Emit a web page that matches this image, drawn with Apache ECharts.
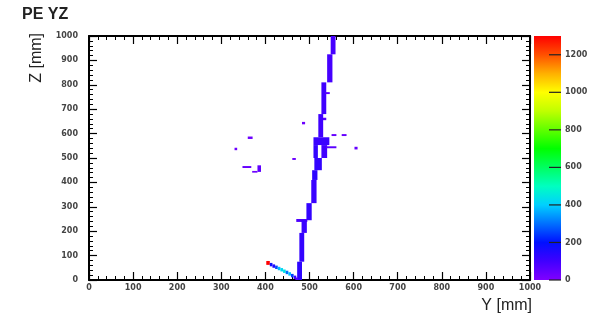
<!DOCTYPE html>
<html>
<head>
<meta charset="utf-8">
<script src="https://cdn.jsdelivr.net/npm/echarts@6/dist/echarts.min.js"></script>
<style>
html,body{margin:0;padding:0;background:#fff;}
#chart{width:600px;height:321px;}
</style>
</head>
<body>
<div id="chart"></div>
<script>
// Histogram bins merged into rectangles: [Ymin, Ymax, Zmin, Zmax, entries] (mm)
const trackSegments = [
  [548, 559, 925, 1000, 90],
  [540, 552, 810, 925, 90],
  [527, 538, 680, 810, 100],
  [536, 546, 762, 770, 60],
  [528, 538, 655, 665, 60],
  [520, 531, 585, 680, 100],
  [509, 545, 553, 585, 110],
  [509, 519, 500, 553, 120],
  [527, 540, 500, 553, 100],
  [538, 561, 540, 548, 60],
  [511, 528, 450, 500, 120],
  [506, 518, 410, 450, 130],
  [504, 516, 315, 410, 110],
  [493, 505, 245, 315, 120],
  [470, 495, 238, 250, 80],
  [482, 494, 193, 245, 110],
  [477, 488, 75, 193, 120],
  [472, 483, 0, 75, 130]
];
const diagonalHits = [
  [402, 410, 62, 78, 1300],
  [410, 416, 56, 70, 180],
  [416, 422, 50, 64, 150],
  [422, 428, 45, 59, 260],
  [428, 434, 40, 54, 380],
  [434, 440, 35, 49, 420],
  [440, 446, 29, 43, 440],
  [446, 452, 24, 38, 300],
  [452, 458, 18, 32, 380],
  [458, 464, 11, 25, 250],
  [464, 470, 4, 18, 120],
  [468, 474, 0, 10, 80]
];
const isolatedHits = [
  [360, 371, 578, 588, 30],
  [330, 336, 532, 542, 30],
  [348, 368, 459, 467, 40],
  [382, 390, 443, 470, 50],
  [370, 382, 440, 447, 30],
  [461, 469, 492, 500, 30],
  [483, 490, 638, 648, 30],
  [550, 561, 590, 598, 40],
  [573, 584, 590, 598, 40],
  [602, 609, 535, 546, 40]
];
const paletteTickStep = 200;
const paletteTicks = [0, 200, 400, 600, 800, 1000, 1200];
const paletteColors = ['#8000ff', '#4000ff', '#0010ff', '#0070ff', '#00d0ff', '#00ffc0', '#00ff60',
  '#00ff00', '#60ff00', '#c0ff00', '#ffff00', '#ffb000', '#ff5000', '#ff0000'];
const zMax = 1300;

const allCells = trackSegments.concat(diagonalHits, isolatedHits);

const plainNum = function (v) { return String(v); };
const labelStyle = {color: '#444', fontSize: 8, fontWeight: 'bold', fontFamily: 'DejaVu Sans', formatter: plainNum};
function ticks() {
  return {
    axisLine: {show: true, onZero: false, lineStyle: {color: '#000', width: 2}},
    axisTick: {show: true, inside: true, length: 8, lineStyle: {color: '#000', width: 1.2}},
    minorTick: {show: true, splitNumber: 5, length: 4, lineStyle: {color: '#000', width: 1}},
    splitLine: {show: false}
  };
}

const chart = echarts.init(document.getElementById('chart'), null, {renderer: 'canvas'});
chart.setOption({
  animation: false,
  backgroundColor: '#fff',
  title: {
    text: 'PE YZ', left: 22, top: 7, padding: 0,
    textStyle: {fontSize: 16, fontWeight: 'bold', color: '#222', fontFamily: 'Liberation Sans'}
  },
  graphic: [{
    type: 'text', x: 37, y: 33, rotation: Math.PI / 2,
    style: {text: 'Z [mm]', fill: '#222', font: '16px "Liberation Sans"', align: 'right', verticalAlign: 'middle'}
  }],
  grid: [
    {left: 89, top: 36, width: 441, height: 244, show: false},
    {left: 534, top: 36, width: 27, height: 244, show: false}
  ],
  xAxis: [
    Object.assign({gridIndex: 0, type: 'value', min: 0, max: 1000, interval: 100, position: 'bottom',
      axisLabel: Object.assign({margin: 4}, labelStyle),
      name: 'Y [mm]', nameLocation: 'end', nameGap: 2,
      nameTextStyle: {color: '#222', fontSize: 16, fontFamily: 'Liberation Sans', align: 'right', verticalAlign: 'top', padding: [18, 0, 0, 0]}
    }, ticks()),
    Object.assign({gridIndex: 0, type: 'value', min: 0, max: 1000, interval: 100, position: 'top',
      axisLabel: {show: false}}, ticks()),
    {gridIndex: 1, type: 'value', min: -1, max: 0, show: false}
  ],
  yAxis: [
    Object.assign({gridIndex: 0, type: 'value', min: 0, max: 1000, interval: 100, position: 'left',
      axisLabel: Object.assign({margin: 11}, labelStyle)}, ticks()),
    Object.assign({gridIndex: 0, type: 'value', min: 0, max: 1000, interval: 100, position: 'right',
      axisLabel: {show: false}}, ticks()),
    {gridIndex: 1, type: 'value', min: 0, max: zMax, interval: paletteTickStep, position: 'right',
      axisLine: {show: false},
      axisTick: {show: false},
      axisLabel: Object.assign({margin: 4, showMaxLabel: false}, labelStyle),
      splitLine: {show: false}}
  ],
  visualMap: {
    type: 'continuous', show: false, min: 0, max: zMax, dimension: 4, seriesIndex: 0,
    inRange: {color: paletteColors}
  },
  series: [{
    type: 'custom',
    coordinateSystem: 'cartesian2d',
    xAxisIndex: 0, yAxisIndex: 0,
    encode: {x: [0, 1], y: [2, 3]},
    clip: true,
    z: 2,
    data: allCells,
    renderItem: function (params, api) {
      const p0 = api.coord([api.value(0), api.value(3)]);
      const p1 = api.coord([api.value(1), api.value(2)]);
      return {
        type: 'rect',
        shape: {x: p0[0], y: p0[1], width: p1[0] - p0[0], height: p1[1] - p0[1]},
        style: {fill: api.visual('color')}
      };
    }
  }, {
    // colour bar: one rectangle spanning the palette range, filled with the palette gradient
    type: 'custom',
    coordinateSystem: 'cartesian2d',
    xAxisIndex: 2, yAxisIndex: 2,
    encode: {x: [0, 1], y: [2, 3]},
    z: 1,
    silent: true,
    data: [[-1, 0, 0, zMax]],
    renderItem: function (params, api) {
      const pTop = api.coord([api.value(1), api.value(3)]);
      const pBot = api.coord([api.value(0), api.value(2)]);
      const stops = paletteColors.map(function (c, i) {
        return {offset: i / (paletteColors.length - 1), color: c};
      });
      return {
        type: 'rect',
        shape: {x: pBot[0], y: pTop[1], width: pTop[0] - pBot[0], height: pBot[1] - pTop[1]},
        style: {fill: new echarts.graphic.LinearGradient(0, 1, 0, 0, stops)}
      };
    }
  }, {
    // palette-axis tick marks, placed through the colour-bar axis scale
    type: 'custom',
    coordinateSystem: 'cartesian2d',
    xAxisIndex: 2, yAxisIndex: 2,
    encode: {x: 0, y: 1},
    z: 6,
    silent: true,
    data: paletteTicks.map(function (v) { return [0, v]; }),
    renderItem: function (params, api) {
      const p = api.coord([api.value(0), api.value(1)]);
      return {
        type: 'line',
        z2: 10,
        shape: {x1: p[0] - 12, y1: p[1], x2: p[0], y2: p[1]},
        style: {stroke: '#222', lineWidth: 1.2}
      };
    }
  }]
});
</script>
</body>
</html>
